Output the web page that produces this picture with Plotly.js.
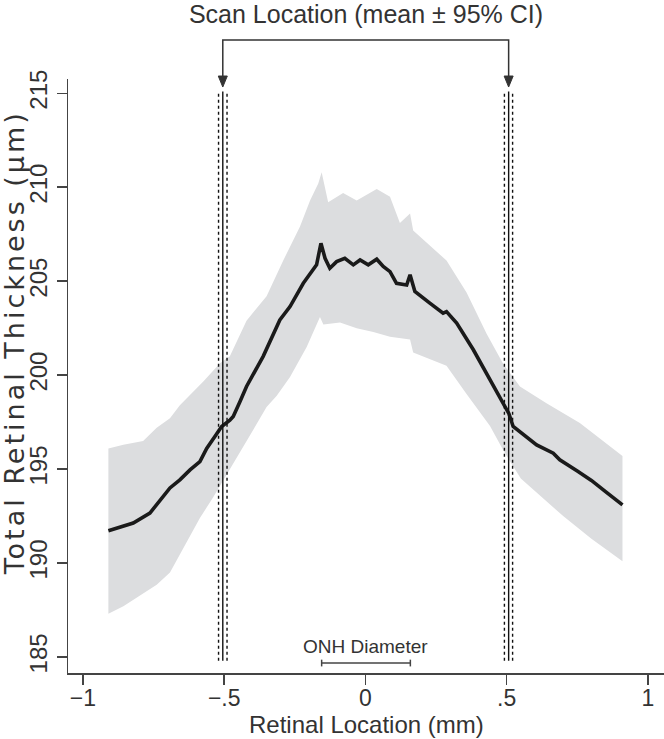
<!DOCTYPE html>
<html>
<head>
<meta charset="utf-8">
<script src="https://cdn.plot.ly/plotly-3.0.1.min.js"></script>
<style>
html,body{margin:0;padding:0;background:#fff;}
#chart{width:664px;height:739px;}
#chart .annotation[data-index="1"] text{letter-spacing:3px;}
</style>
</head>
<body>
<div id="chart"></div>
<script>
// Mean total retinal thickness
const meanX = [-0.91,-0.857,-0.822,-0.763,-0.739,-0.692,-0.657,-0.621,-0.586,-0.562,-0.533,-0.509,-0.48,-0.468,-0.444,-0.421,-0.362,-0.303,-0.267,-0.22,-0.173,-0.1575,-0.143,-0.126,-0.102,-0.073,-0.043,-0.019,0.01,0.04,0.063,0.087,0.11,0.146,0.158,0.175,0.228,0.275,0.287,0.323,0.382,0.441,0.5,0.508,0.523,0.547,0.606,0.665,0.688,0.75,0.8,0.85,0.91];
const meanY = [191.72,191.98,192.13,192.66,193.1,194.0,194.43,194.96,195.4,196.1,196.73,197.27,197.6,197.8,198.6,199.4,201.0,202.94,203.65,204.89,205.87,207.02,206.22,205.69,206.04,206.22,205.87,206.13,205.87,206.17,205.78,205.51,204.89,204.8,205.34,204.45,203.83,203.3,203.38,202.77,201.35,199.75,198.15,197.95,197.27,197.0,196.29,195.85,195.5,194.9,194.4,193.8,193.1];
// Upper 95% CI
const upX = [-0.91,-0.857,-0.787,-0.739,-0.692,-0.657,-0.574,-0.515,-0.48,-0.421,-0.35,-0.291,-0.232,-0.196,-0.167,-0.155,-0.132,-0.079,-0.031,0.04,0.087,0.122,0.158,0.169,0.287,0.358,0.429,0.488,0.547,0.641,0.759,0.91];
const upY = [196.1,196.3,196.5,197.2,197.7,198.4,199.66,200.64,201.0,202.9,204.2,206.1,207.9,209.3,210.2,210.8,209.2,209.7,209.3,209.9,209.5,208.1,208.6,207.7,206.1,204.4,202.2,200.6,199.4,198.5,197.45,195.7];
// Lower 95% CI
const loX = [-0.91,-0.857,-0.787,-0.739,-0.692,-0.633,-0.586,-0.539,-0.503,-0.468,-0.397,-0.35,-0.314,-0.267,-0.208,-0.161,-0.149,-0.09,-0.031,0.028,0.087,0.158,0.169,0.287,0.358,0.441,0.488,0.55,0.6,0.7,0.8,0.91];
const loY = [187.3,187.7,188.4,188.85,189.5,191.1,192.4,193.5,194.4,195.3,197.1,198.3,198.9,199.9,201.5,203.1,202.7,202.8,202.5,202.3,202.05,201.9,201.2,200.5,199.0,197.3,196.0,194.5,193.8,192.5,191.3,190.1];
// Scan location (mean, lower CI, upper CI) for the two scan edges
const scanMean = [-0.505, 0.507];
const scanLo = [-0.52, 0.492];
const scanHi = [-0.49, 0.521];
// ONH diameter
const onh = [-0.155, 0.159];
// Tick labels
const xTickVals = [-1,-0.5,0,0.5,1];
const xTickText = ['\u22121','\u2212.5','0','.5','1'];
const yTickVals = [185,190,195,200,205,210,215];

const ink = '#333333';
const font = 'Liberation Sans, Arial, sans-serif';

const band = {
  x: upX.concat(loX.slice().reverse()),
  y: upY.concat(loY.slice().reverse()),
  type: 'scatter', mode: 'lines', fill: 'toself',
  fillcolor: '#dcdddf', line: {width: 0, color: '#dcdddf'},
  hoverinfo: 'skip', showlegend: false
};
const mean = {
  x: meanX, y: meanY, type: 'scatter', mode: 'lines',
  line: {color: '#1a1a1a', width: 3.6}, showlegend: false
};

const shapes = [];
const yBot = 184.8, yTop = 215.1;
scanMean.forEach(function(v){
  shapes.push({type:'line', xref:'x', yref:'y', x0:v, x1:v, y0:yBot, y1:yTop, line:{color:'#111', width:1.4}});
});
scanLo.concat(scanHi).forEach(function(v){
  shapes.push({type:'line', xref:'x', yref:'y', x0:v, x1:v, y0:yBot, y1:yTop, line:{color:'#111', width:1.4, dash:'3px,3px'}});
});
// bracket with arrows
const bTop = 1.0657, aBase = 1.005, aTip = 0.9865, hw = 0.016;
shapes.push({type:'path', xref:'x', yref:'paper',
  path: 'M ' + scanMean[0] + ',' + aBase + ' L ' + scanMean[0] + ',' + bTop + ' L ' + scanMean[1] + ',' + bTop + ' L ' + scanMean[1] + ',' + aBase,
  line:{color:ink, width:1.5}});
scanMean.forEach(function(v){
  shapes.push({type:'path', xref:'x', yref:'paper',
    path: 'M ' + (v-hw) + ',' + aBase + ' L ' + (v+hw) + ',' + aBase + ' L ' + v + ',' + aTip + ' Z',
    fillcolor: ink, line:{color:ink, width:1}});
});
// ONH bar
const onhY = 184.68;
shapes.push({type:'line', xref:'x', yref:'y', x0:onh[0], x1:onh[1], y0:onhY, y1:onhY, line:{color:'#444', width:1.5}});
onh.forEach(function(v){
  shapes.push({type:'line', xref:'x', yref:'y', x0:v, x1:v, y0:onhY-0.18, y1:onhY+0.18, line:{color:'#444', width:1.5}});
});

const layout = {
  width: 664, height: 739,
  margin: {l: 68, r: 0, t: 79, b: 66},
  paper_bgcolor: '#fff', plot_bgcolor: '#fff',
  font: {family: font, color: ink},
  title: {text: 'Scan Location (mean \u00b1 95% CI)', font: {size: 25, color: ink, family: font},
          x: 0.5, xref: 'paper', y: 1 - 14/739, yref: 'container', yanchor: 'middle'},
  xaxis: {range: [-1.053, 1.057], tickvals: xTickVals, ticktext: xTickText,
          showgrid: false, zeroline: false, showline: true, linecolor: '#444', linewidth: 1.5,
          ticks: 'outside', ticklen: 10, tickwidth: 1.5, tickcolor: '#444',
          ticklabelstandoff: -6,
          tickfont: {size: 23, color: ink}},
  yaxis: {range: [184.15, 215.76], tickvals: yTickVals, tickangle: -90,
          showgrid: false, zeroline: false, showline: true, linecolor: '#444', linewidth: 1.5,
          ticks: 'outside', ticklen: 10, tickwidth: 1.5, tickcolor: '#444',
          tickfont: {size: 24, color: ink}},
  shapes: shapes,
  annotations: [
    {x: 0, y: 185.55, xref: 'x', yref: 'y', text: 'ONH Diameter', showarrow: false,
     font: {size: 19, color: ink}, yanchor: 'middle'},
    {x: -68/596, y: 0.555, xref: 'paper', yref: 'paper', xshift: 14, text: 'Total Retinal Thickness (\u00b5m)',
     showarrow: false, textangle: -90, xanchor: 'center', yanchor: 'middle',
     font: {size: 27, color: ink, family: 'DejaVu Sans, Liberation Sans, sans-serif'}},
    {x: 0.5, y: -51/594, xref: 'paper', yref: 'paper', text: 'Retinal Location (mm)', showarrow: false,
     xanchor: 'center', yanchor: 'middle', font: {size: 24, color: ink}}
  ]
};

Plotly.newPlot('chart', [band, mean], layout, {displayModeBar: false, staticPlot: true});
</script>
</body>
</html>
